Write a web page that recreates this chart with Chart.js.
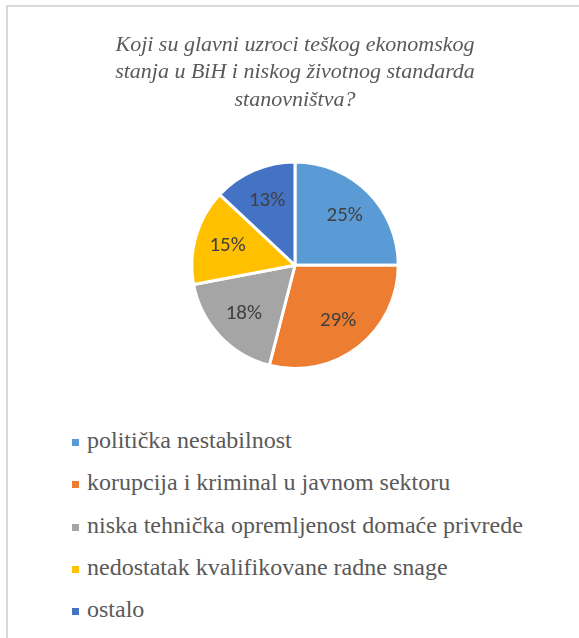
<!DOCTYPE html>
<html>
<head>
<meta charset="utf-8">
<title>Uzroci teškog ekonomskog stanja</title>
<script src="https://cdn.jsdelivr.net/npm/chart.js@4/dist/chart.umd.min.js"></script>
<style>
  html, body { margin: 0; padding: 0; background: #fff; }
  body { width: 579px; height: 638px; position: relative; overflow: hidden; }
  .frame {
    position: absolute; left: 6px; top: 5px; right: -10px; bottom: -10px;
    border-left: 2px solid #d9d9d9; border-top: 2px solid #d9d9d9;
  }
  .chart-box { position: absolute; left: 0; top: 0; width: 579px; height: 370px; }
  .legend {
    position: absolute; left: 72px; top: 419px; margin: 0; padding: 0;
    list-style: none; font-family: 'Liberation Serif', 'Times New Roman', serif;
    font-size: 24px; color: #595959;
  }
  .legend li { height: 42.3px; line-height: 42.3px; white-space: nowrap; }
  .legend .box {
    display: inline-block; width: 7px; height: 7px; margin-right: 8px;
    vertical-align: 2px;
  }
</style>
</head>
<body>
<div class="frame"></div>
<div class="chart-box"><canvas id="grafik"></canvas></div>
<ul class="legend" id="legenda"></ul>

<script>
// =============================================================
//  Pie: glavni uzroci teškog ekonomskog stanja u BiH
// =============================================================

const naslov = [
  "Koji su glavni uzroci teškog ekonomskog",
  "stanja u BiH i niskog životnog standarda",
  "stanovništva?",
];
const kategorije = [
  "politička nestabilnost",
  "korupcija i kriminal u javnom sektoru",
  "niska tehnička opremljenost domaće privrede",
  "nedostatak kvalifikovane radne snage",
  "ostalo",
];
const procenti = [25, 29, 18, 15, 13];
const boje = ["#5B9BD5", "#ED7D31", "#A5A5A5", "#FFC000", "#4472C4"];

const SERIF = "'Liberation Serif', 'Times New Roman', serif";

// Percent labels inside each slice.
const oznakePlugin = {
  id: "oznake",
  afterDatasetsDraw(chart) {
    const { ctx } = chart;
    const meta = chart.getDatasetMeta(0);
    ctx.save();
    ctx.font = "21px Carlito, Lato, sans-serif";
    ctx.fillStyle = "#404040";
    ctx.textAlign = "center";
    ctx.textBaseline = "middle";
    meta.data.forEach((arc, i) => {
      const { x, y, startAngle, endAngle, outerRadius } = arc.getProps(
        ["x", "y", "startAngle", "endAngle", "outerRadius"], true
      );
      const mid = (startAngle + endAngle) / 2;
      const r = outerRadius * 0.68;
      ctx.fillText(procenti[i] + "%", x + Math.cos(mid) * r, y + Math.sin(mid) * r);
    });
    ctx.restore();
  },
};

new Chart(document.getElementById("grafik"), {
  type: "pie",
  data: {
    labels: kategorije,
    datasets: [
      {
        data: procenti,
        backgroundColor: boje,
        borderColor: "#ffffff",
        borderWidth: 3,
      },
    ],
  },
  options: {
    responsive: true,
    maintainAspectRatio: false,
    animation: false,
    layout: { padding: { left: 11, right: 0, top: 0, bottom: 0 } },
    plugins: {
      legend: { display: false },
      tooltip: { enabled: false },
      title: {
        display: true,
        text: naslov,
        color: "#595959",
        font: {
          family: SERIF,
          size: 22,
          style: "italic",
          weight: "normal",
          lineHeight: 1.25,
        },
        padding: { top: 31, bottom: 47 },
      },
    },
  },
  plugins: [oznakePlugin],
});

// Legend as plain list under the chart.
const legenda = document.getElementById("legenda");
kategorije.forEach((k, i) => {
  const li = document.createElement("li");
  const box = document.createElement("span");
  box.className = "box";
  box.style.background = boje[i];
  li.appendChild(box);
  li.appendChild(document.createTextNode(k));
  legenda.appendChild(li);
});
</script>
</body>
</html>
